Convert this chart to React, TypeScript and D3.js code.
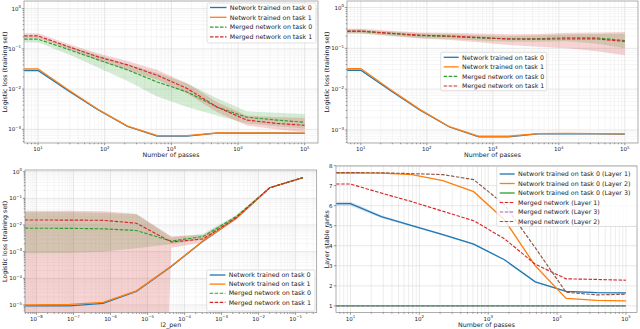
import React from "react";
import * as d3 from "d3";

// x values
const passes = [6.2, 10, 28, 78, 220, 615, 1720, 4820, 13500, 37800, 100000];
const l2Pen = [4.8e-9, 7.9e-8, 6.3e-7, 5e-6, 4.4e-5, 3.2e-4, 2.5e-3, 0.02, 0.158];

// panel 1 (top left)
const trainedTask0 = [0.029, 0.029, 0.0093, 0.0031, 0.00118, 0.00068, 0.00068, 0.0008, 0.0008, 0.0008, 0.00079];
const trainedTask1 = [0.032, 0.032, 0.0098, 0.0032, 0.0012, 0.0007, 0.0007, 0.00081, 0.00082, 0.00081, 0.0008];
const p1Merged0 = [0.174, 0.174, 0.098, 0.054, 0.03, 0.015, 0.0085, 0.0036, 0.002, 0.0017, 0.0015];
const p1Merged0Lo = [0.145, 0.145, 0.075, 0.035, 0.016, 0.0065, 0.0036, 0.0022, 0.0014, 0.0012, 0.00105];
const p1Merged0Hi = [0.2, 0.2, 0.12, 0.07, 0.042, 0.025, 0.014, 0.0059, 0.0028, 0.0026, 0.0024];
const p1Merged1 = [0.21, 0.21, 0.115, 0.064, 0.04, 0.022, 0.0104, 0.0036, 0.0017, 0.0014, 0.00126];
const p1Merged1Lo = [0.19, 0.19, 0.1, 0.053, 0.03, 0.017, 0.0078, 0.0027, 0.00125, 0.001, 0.00085];
const p1Merged1Hi = [0.245, 0.245, 0.135, 0.078, 0.05, 0.03, 0.014, 0.0048, 0.0022, 0.002, 0.0019];

// panel 2 (top right)
const p2Merged0 = [0.26, 0.26, 0.23, 0.205, 0.195, 0.18, 0.17, 0.172, 0.182, 0.18, 0.155];
const p2Merged0Lo = [0.23, 0.23, 0.205, 0.18, 0.17, 0.155, 0.145, 0.145, 0.15, 0.13, 0.1];
const p2Merged0Hi = [0.29, 0.29, 0.26, 0.235, 0.225, 0.21, 0.2, 0.205, 0.22, 0.225, 0.23];
const p2Merged1 = [0.265, 0.265, 0.235, 0.21, 0.2, 0.185, 0.17, 0.168, 0.17, 0.17, 0.148];
const p2Merged1Lo = [0.23, 0.23, 0.2, 0.175, 0.16, 0.14, 0.12, 0.11, 0.1, 0.085, 0.068];
const p2Merged1Hi = [0.3, 0.3, 0.27, 0.245, 0.24, 0.23, 0.22, 0.225, 0.24, 0.245, 0.25];

// panel 3 (bottom left)
const p3Trained0 = [9.2e-6, 9.3e-6, 1.15e-5, 3.2e-5, 2.8e-4, 2.5e-3, 0.018, 0.25, 0.6];
const p3Trained1 = [1.0e-5, 1.05e-5, 1.25e-5, 3.4e-5, 2.9e-4, 2.55e-3, 0.018, 0.25, 0.6];
const p3Merged0 = [0.0076, 0.0075, 0.0072, 0.0062, 0.0025, 0.0037, 0.021, 0.25, 0.6];
const p3Merged0Lo = [0.00088, 0.0009, 0.001, 0.00135, 0.0019, 0.0029, 0.018, 0.24, 0.59];
const p3Merged0Hi = [0.03, 0.03, 0.028, 0.026, 0.0034, 0.0047, 0.024, 0.26, 0.61];
const p3Merged1 = [0.0155, 0.0153, 0.015, 0.0117, 0.0023, 0.003, 0.019, 0.25, 0.6];
const p3Merged1Lo = [1e-40, 1e-40, 1e-40, 1e-40, 0.0014, 0.0022, 0.017, 0.24, 0.59];
const p3Merged1Hi = [0.034, 0.034, 0.033, 0.026, 0.0038, 0.0042, 0.022, 0.26, 0.61];

// panel 4 (bottom right)
const rankTrainedL1 = [6.1, 6.1, 5.45, 5.0, 4.55, 4.08, 3.3, 2.2, 1.72, 1.66, 1.65];
const rankTrainedL1Lo = [6.0, 6.0, 5.38, 4.95, 4.5, 4.04, 3.27, 2.17, 1.69, 1.63, 1.62];
const rankTrainedL1Hi = [6.2, 6.2, 5.52, 5.05, 4.6, 4.12, 3.33, 2.23, 1.75, 1.69, 1.68];
const rankTrainedL2 = [7.63, 7.63, 7.62, 7.55, 7.25, 6.7, 5.3, 3.0, 1.37, 1.27, 1.25];
const rankTrainedL3 = [1, 1, 1, 1, 1, 1, 1, 1, 1, 1, 1];
const rankMergedL1 = [7.08, 7.08, 6.63, 6.2, 5.72, 5.25, 4.35, 3.08, 2.35, 2.32, 2.28];
const rankMergedL3 = [1, 1, 1, 1, 1, 1, 1, 1, 1, 1, 1];
const rankMergedL2 = [7.65, 7.65, 7.64, 7.6, 7.55, 7.3, 6.05, 3.9, 1.68, 1.55, 1.58];
const rankTicks = [1, 2, 3, 4, 5, 6, 7, 8];

const FONT = "DejaVu Sans";
const C = {
  blue: "#1f77b4",
  orange: "#ff7f0e",
  green: "#2ca02c",
  red: "#d62728",
  purple: "#9467bd",
  brown: "#8c564b",
};

type Series = {
  label: string;
  x: number[];
  y: number[];
  color: string;
  dashed?: boolean;
  lo?: number[];
  hi?: number[];
};

type Box = { left: number; right: number; top: number; bottom: number };
type Legend = { left: number; top: number; width: number; height: number; rowStart: number; rowGap: number; handleLen: number };

const supText = (k: number) => (k < 0 ? `\u2212${-k}` : `${k}`);

function logTicks(domain: number[]) {
  const lo = Math.log10(domain[0]);
  const hi = Math.log10(domain[1]);
  const majors: number[] = [];
  const minors: number[] = [];
  for (let k = Math.floor(lo); k <= Math.floor(hi); k++) {
    if (k >= lo && k <= hi) majors.push(k);
    for (let m = 2; m <= 9; m++) {
      const v = m * Math.pow(10, k);
      if (v >= domain[0] && v <= domain[1]) minors.push(v);
    }
  }
  return { majors, minors };
}

let clipId = 0;

function Panel({
  box,
  xDomain,
  yDomain,
  yLog,
  series,
  legend,
  xLabel,
  yLabel,
  yLabelX,
  minorGrid = "#ececec",
}: {
  box: Box;
  xDomain: number[];
  yDomain: number[];
  yLog: boolean;
  series: Series[];
  legend: Legend;
  xLabel: string;
  yLabel: string;
  yLabelX: number;
  minorGrid?: string;
}) {
  const id = `clip${clipId++}`;
  const x = d3.scaleLog().domain(xDomain).range([box.left, box.right]);
  const y = yLog
    ? d3.scaleLog().domain(yDomain).range([box.bottom, box.top])
    : d3.scaleLinear().domain(yDomain).range([box.bottom, box.top]);

  const xt = logTicks(xDomain);
  const yt = yLog ? logTicks(yDomain) : null;

  const line = (s: Series) =>
    d3
      .line<number>()
      .x((_, i) => x(s.x[i]))
      .y((v) => y(v))(s.y) || "";
  const area = (s: Series) =>
    d3
      .area<number>()
      .x((_, i) => x(s.x[i]))
      .y0((_, i) => y(s.lo![i]))
      .y1((v) => y(v))(s.hi!) || "";

  const majorGrid = "#d6d6d6";
  const tickLen = 2.2;
  const fs = 6.3; // legend + axis labels
  const tfs = 5.5; // tick labels
  const sfs = 3.9; // exponents

  return (
    <g fontFamily={FONT}>
      <defs>
        <clipPath id={id}>
          <rect x={box.left} y={box.top} width={box.right - box.left} height={box.bottom - box.top} />
        </clipPath>
      </defs>
      <rect x={box.left} y={box.top} width={box.right - box.left} height={box.bottom - box.top} fill="#fff" />
      {/* grid */}
      <g strokeWidth={0.5}>
        {xt.minors.map((v) => (
          <line key={"xm" + v} x1={x(v)} x2={x(v)} y1={box.top} y2={box.bottom} stroke={minorGrid} />
        ))}
        {yt &&
          yt.minors.map((v) => (
            <line key={"ym" + v} x1={box.left} x2={box.right} y1={y(v)} y2={y(v)} stroke="#ececec" />
          ))}
        {xt.majors.map((k) => (
          <line key={"xM" + k} x1={x(10 ** k)} x2={x(10 ** k)} y1={box.top} y2={box.bottom} stroke={majorGrid} strokeWidth={0.6} />
        ))}
        {(yt ? yt.majors.map((k) => 10 ** k) : rankTicks).map((v) => (
          <line key={"yM" + v} x1={box.left} x2={box.right} y1={y(v)} y2={y(v)} stroke={majorGrid} strokeWidth={0.6} />
        ))}
      </g>
      {/* bands and lines */}
      <g clipPath={`url(#${id})`}>
        {series
          .filter((s) => s.lo && s.hi)
          .map((s) => (
            <path key={"b" + s.label} d={area(s)} fill={s.color} fillOpacity={0.2} stroke="none" />
          ))}
        {series.map((s) => (
          <path
            key={"l" + s.label}
            d={line(s)}
            fill="none"
            stroke={s.color}
            strokeWidth={s.dashed ? 1.15 : 1.3}
            strokeDasharray={s.dashed ? "3.5 1.5" : undefined}
          />
        ))}
      </g>
      {/* spines */}
      <rect
        x={box.left}
        y={box.top}
        width={box.right - box.left}
        height={box.bottom - box.top}
        fill="none"
        stroke="#8a8a8a"
        strokeWidth={0.7}
      />
      {/* ticks */}
      <g stroke="#555" strokeWidth={0.6}>
        {xt.minors.map((v) => (
          <line key={"xtm" + v} x1={x(v)} x2={x(v)} y1={box.bottom} y2={box.bottom + 1.3} />
        ))}
        {xt.majors.map((k) => (
          <line key={"xtM" + k} x1={x(10 ** k)} x2={x(10 ** k)} y1={box.bottom} y2={box.bottom + tickLen} />
        ))}
        {yt &&
          yt.minors.map((v) => (
            <line key={"ytm" + v} x1={box.left - 1.3} x2={box.left} y1={y(v)} y2={y(v)} />
          ))}
        {(yt ? yt.majors.map((k) => 10 ** k) : rankTicks).map((v) => (
          <line key={"ytM" + v} x1={box.left - tickLen} x2={box.left} y1={y(v)} y2={y(v)} />
        ))}
      </g>
      <g fill="#222">
        {xt.majors.map((k) => (
          <text key={"xl" + k} x={x(10 ** k)} y={box.bottom + 8} textAnchor="middle" fontSize={tfs}>
            <tspan>10</tspan>
            <tspan dy={-2.4} fontSize={sfs}>
              {supText(k)}
            </tspan>
          </text>
        ))}
        {yt
          ? yt.majors.map((k) => (
              <text key={"yl" + k} x={box.left - 3} y={y(10 ** k) + 2} textAnchor="end" fontSize={tfs}>
                <tspan>10</tspan>
                <tspan dy={-2.4} fontSize={sfs}>
                  {supText(k)}
                </tspan>
              </text>
            ))
          : rankTicks.map((v) => (
              <text key={"yl" + v} x={box.left - 3.5} y={y(v) + 2} textAnchor="end" fontSize={tfs}>
                {v}
              </text>
            ))}
        <text x={(box.left + box.right) / 2} y={box.bottom + 14.3} textAnchor="middle" fontSize={fs}>
          {xLabel}
        </text>
        <text
          transform={`translate(${yLabelX},${(box.top + box.bottom) / 2}) rotate(-90)`}
          textAnchor="middle"
          dominantBaseline="central"
          fontSize={fs}
        >
          {yLabel}
        </text>
      </g>
      {/* legend */}
      <g>
        <rect
          x={legend.left}
          y={legend.top}
          width={legend.width}
          height={legend.height}
          rx={1.5}
          fill="#fff"
          fillOpacity={0.8}
          stroke="#cccccc"
          strokeWidth={0.6}
        />
        {series.map((s, i) => {
          const ry = legend.top + legend.rowStart + i * legend.rowGap;
          const hx = legend.left + 3;
          return (
            <g key={"lg" + s.label}>
              <line
                x1={hx}
                x2={hx + legend.handleLen}
                y1={ry}
                y2={ry}
                stroke={s.color}
                strokeWidth={s.dashed ? 1.15 : 1.3}
                strokeDasharray={s.dashed ? "3.5 1.5" : undefined}
              />
              <text x={hx + legend.handleLen + 3.3} y={ry + 2.2} fontSize={fs} fill="#222">
                {s.label}
              </text>
            </g>
          );
        })}
      </g>
    </g>
  );
}

const lossLabels = [
  "Network trained on task 0",
  "Network trained on task 1",
  "Merged network on task 0",
  "Merged network on task 1",
];

export default function App() {
  const s1: Series[] = [
    { label: lossLabels[0], x: passes, y: trainedTask0, color: C.blue },
    { label: lossLabels[1], x: passes, y: trainedTask1, color: C.orange },
    { label: lossLabels[2], x: passes, y: p1Merged0, color: C.green, dashed: true, lo: p1Merged0Lo, hi: p1Merged0Hi },
    { label: lossLabels[3], x: passes, y: p1Merged1, color: C.red, dashed: true, lo: p1Merged1Lo, hi: p1Merged1Hi },
  ];
  const s2: Series[] = [
    { label: lossLabels[0], x: passes, y: trainedTask0, color: C.blue },
    { label: lossLabels[1], x: passes, y: trainedTask1, color: C.orange },
    { label: lossLabels[2], x: passes, y: p2Merged0, color: C.green, dashed: true, lo: p2Merged0Lo, hi: p2Merged0Hi },
    { label: lossLabels[3], x: passes, y: p2Merged1, color: C.red, dashed: true, lo: p2Merged1Lo, hi: p2Merged1Hi },
  ];
  const s3: Series[] = [
    { label: lossLabels[0], x: l2Pen, y: p3Trained0, color: C.blue },
    { label: lossLabels[1], x: l2Pen, y: p3Trained1, color: C.orange },
    { label: lossLabels[2], x: l2Pen, y: p3Merged0, color: C.green, dashed: true, lo: p3Merged0Lo, hi: p3Merged0Hi },
    { label: lossLabels[3], x: l2Pen, y: p3Merged1, color: C.red, dashed: true, lo: p3Merged1Lo, hi: p3Merged1Hi },
  ];
  const s4: Series[] = [
    { label: "Network trained on task 0 (Layer 1)", x: passes, y: rankTrainedL1, color: C.blue, lo: rankTrainedL1Lo, hi: rankTrainedL1Hi },
    { label: "Network trained on task 0 (Layer 2)", x: passes, y: rankTrainedL2, color: C.orange },
    { label: "Network trained on task 0 (Layer 3)", x: passes, y: rankTrainedL3, color: C.green },
    { label: "Merged network (Layer 1)", x: passes, y: rankMergedL1, color: C.red, dashed: true },
    { label: "Merged network (Layer 3)", x: passes, y: rankMergedL3, color: C.purple, dashed: true },
    { label: "Merged network (Layer 2)", x: passes, y: rankMergedL2, color: C.brown, dashed: true },
  ];

  return (
    <svg
      width={640}
      height={329}
      style={{ position: "absolute", left: 0, top: 0, background: "#fff" }}
    >
      <Panel
        box={{ left: 24, right: 318, top: 1, bottom: 143 }}
        xDomain={[10 ** 0.79, 10 ** 5.2]}
        yDomain={[10 ** -3.34, 10 ** 0.19]}
        yLog
        series={s1}
        legend={{ left: 207, top: 3, width: 109, height: 40, rowStart: 4.5, rowGap: 9.8, handleLen: 16.5 }}
        xLabel="Number of passes"
        yLabel="Logistic loss (training set)"
        yLabelX={4}
      />
      <Panel
        box={{ left: 347, right: 638, top: 1, bottom: 143 }}
        xDomain={[10 ** 0.79, 10 ** 5.2]}
        yDomain={[10 ** -3.32, 10 ** 0.16]}
        yLog
        series={s2}
        legend={{ left: 440.7, top: 52.3, width: 106, height: 38.4, rowStart: 5, rowGap: 9.55, handleLen: 15 }}
        xLabel="Number of passes"
        yLabel="Logistic loss (training set)"
        yLabelX={326}
      />
      <Panel
        box={{ left: 25, right: 316.7, top: 170, bottom: 312.7 }}
        xDomain={[10 ** -8.31, 10 ** -0.43]}
        yDomain={[10 ** -5.29, 10 ** 0.064]}
        yLog
        series={s3}
        legend={{ left: 206.7, top: 270, width: 108.3, height: 41, rowStart: 5, rowGap: 9.1, handleLen: 15.7 }}
        xLabel="l2_pen"
        yLabel="Logistic loss (training set)"
        yLabelX={4}
      />
      <Panel
        box={{ left: 336, right: 637, top: 166, bottom: 312.5 }}
        xDomain={[10 ** 0.79, 10 ** 5.16]}
        yDomain={[0.67, 7.98]}
        yLog={false}
        series={s4}
        legend={{ left: 496.7, top: 166.5, width: 140, height: 60, rowStart: 7.5, rowGap: 9.5, handleLen: 15 }}
        xLabel="Number of passes"
        yLabel="Layer stable ranks"
        yLabelX={326}
        minorGrid="#dadada"
      />
    </svg>
  );
}
